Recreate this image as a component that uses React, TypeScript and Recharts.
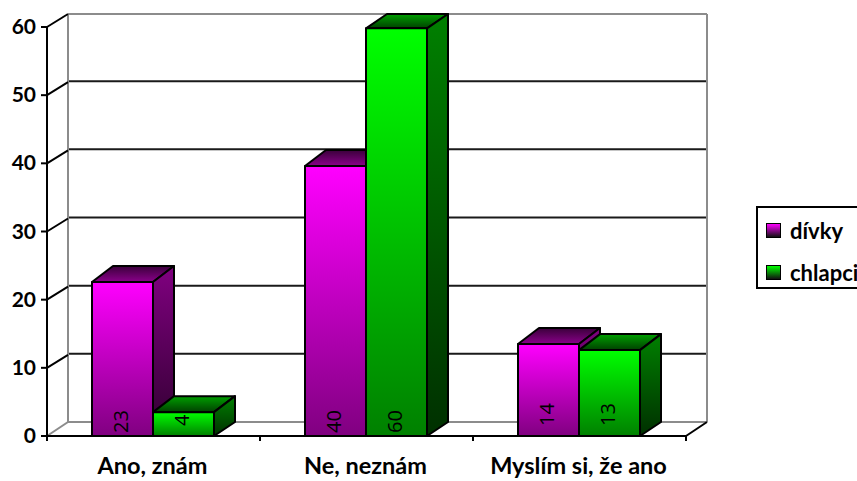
import React from "react";
import { BarChart, Bar, XAxis, YAxis, CartesianGrid, Legend, LabelList, usePlotArea } from "recharts";

const categories = ["Ano, znám", "Ne, neznám", "Myslím si, že ano"];
const divkyHeights = [22.6, 39.6, 13.5];
const chlapciHeights = [3.5, 59.8, 12.6];
const divkyLabels = ["23", "40", "14"];
const chlapciLabels = ["4", "60", "13"];
const yTicks = [0, 10, 20, 30, 40, 50, 60];

const data = categories.map((name, i) => ({
  name,
  divky: divkyHeights[i],
  chlapci: chlapciHeights[i],
  divkyLabel: divkyLabels[i],
  chlapciLabel: chlapciLabels[i],
}));

const FONT = "Lato, 'Open Sans', sans-serif";
const DX = 21;
const DY = 14;
const TOP_DY = 16;
const CEILING = 14;
const SHIFT = 1;

const Grad = ({ id, from, to }: any) => (
  <linearGradient id={id} x1="0" y1="0" x2="0" y2="1">
    <stop offset="0%" stopColor={from} />
    <stop offset="100%" stopColor={to} />
  </linearGradient>
);

const Bar3D = (props: any) => {
  const { y, width, height, tone } = props;
  const x = props.x - SHIFT;
  const b = y + height;
  const r = x + width;
  const by = Math.max(y - TOP_DY, CEILING);
  const common = { stroke: "#000", strokeWidth: 2, strokeLinejoin: "round" as const };
  return (
    <g>
      <polygon points={`${x},${y} ${x + DX},${by} ${r + DX},${by} ${r},${y}`} fill={`url(#${tone}Top)`} {...common} />
      <polygon points={`${r},${y} ${r + DX},${by} ${r + DX},${b - DY} ${r},${b}`} fill={`url(#${tone}Side)`} {...common} />
      <rect x={x} y={y} width={width} height={height} fill={`url(#${tone}Front)`} {...common} />
    </g>
  );
};

const Walls = () => {
  const area: any = usePlotArea();
  if (!area) return null;
  const { x, y, width, height } = area;
  const r = x + width;
  const b = y + height;
  const gray = { stroke: "#8c8c8c", strokeWidth: 2 };
  return (
    <g>
      <line x1={x + DX} y1={y - 13} x2={x + DX} y2={b - DY} {...gray} />
      <line x1={x + DX} y1={y - 13} x2={r + DX} y2={y - 13} {...gray} />
      <line x1={r + DX} y1={y - 13} x2={r + DX} y2={b - DY} {...gray} />
      <line x1={x + DX} y1={b - DY} x2={r + DX} y2={b - DY} {...gray} />
      <line x1={x} y1={b} x2={x + DX} y2={b - DY} {...gray} />
      <line x1={r} y1={b} x2={r + DX} y2={b - DY} stroke="#000" strokeWidth={2} />
      {[0, 1, 2, 3].map((i) => {
        const tx = x + (i * width) / categories.length;
        return <line key={i} x1={tx} x2={tx} y1={b} y2={b + 5} stroke="#000" strokeWidth={2} />;
      })}
    </g>
  );
};

const gridLine = (p: any) => {
  if (p.y1 >= 430 || p.y1 <= 30) return <g key={p.key} />;
  return <line key={p.key} x1={p.x1 + DX} x2={p.x2 + DX} y1={p.y1 - DY} y2={p.y2 - DY} stroke="#1a1a1a" strokeWidth={2} />;
};

const YTick = ({ x, y, payload }: any) => (
  <g>
    {payload.value > 0 && <line x1={x + 8} y1={y} x2={x + 8 + DX} y2={y - DY + 1} stroke="#000" strokeWidth={2} />}
    <text x={x - 3} y={y + 7} textAnchor="end" fontFamily={FONT} fontWeight={700} fontSize={21} fill="#000">
      {payload.value}
    </text>
  </g>
);

const XTick = ({ x, y, payload }: any) => (
  <text x={x - 1} y={y + 30} textAnchor="middle" fontFamily={FONT} fontWeight={700} fontSize={23.5} fill="#000">
    {payload.value}
  </text>
);

const RotatedLabel = (props: any) => {
  const { x, y, width, height, value } = props;
  const bx = x - SHIFT + width / 2 + 5;
  const by = y + height - (height < 120 ? 10 : 3);
  return (
    <text transform={`translate(${bx},${by}) rotate(-90)`} fontFamily="'Open Sans', sans-serif" fontSize={20} fill="#000">
      {value}
    </text>
  );
};

const LegendBox = ({ payload }: any) => (
  <div style={{ width: 120, height: 79, border: "2px solid #000", fontFamily: FONT, fontWeight: 700, fontSize: 22, color: "#000", position: "relative", background: "#fff" }}>
    {(payload || []).map((e: any, i: number) => (
      <div key={e.value} style={{ position: "absolute", left: 8, top: 14 + i * 42, display: "flex", alignItems: "center", height: 16, whiteSpace: "nowrap" }}>
        <span style={{ display: "inline-block", width: 13, height: 13, border: "1px solid #000", marginRight: 9, background: `linear-gradient(${e.color}, #111)` }} />
        {e.value}
      </div>
    ))}
  </div>
);

export default function App() {
  return (
    <div style={{ position: "absolute", left: 0, top: 0, width: 857, height: 481, overflow: "hidden", background: "#fff" }}>
      <BarChart width={857} height={481} data={data} margin={{ top: 27, right: 47, bottom: 0, left: 0 }} barSize={61} barGap={0}>
        <defs>
          <Grad id="mFront" from="#ff00ff" to="#800080" />
          <Grad id="mSide" from="#800080" to="#300030" />
          <Grad id="mTop" from="#3a003a" to="#8a008a" />
          <Grad id="gFront" from="#00ff00" to="#008000" />
          <Grad id="gSide" from="#008000" to="#003000" />
          <Grad id="gTop" from="#00a000" to="#004000" />
        </defs>
        <Walls />
        <CartesianGrid vertical={false} horizontal={gridLine} />
        <XAxis dataKey="name" tick={<XTick />} tickLine={false} axisLine={{ stroke: "#000", strokeWidth: 2 }} interval={0} height={45} />
        <YAxis domain={[0, 60]} ticks={yTicks} width={47} tick={<YTick />} tickLine={{ stroke: "#000", strokeWidth: 2 }} axisLine={{ stroke: "#000", strokeWidth: 2 }} />
        <Bar dataKey="divky" name="dívky" fill="#ff00ff" isAnimationActive={false} shape={(p: any) => <Bar3D {...p} tone="m" />}>
          <LabelList dataKey="divkyLabel" content={<RotatedLabel />} />
        </Bar>
        <Bar dataKey="chlapci" name="chlapci" fill="#00ff00" isAnimationActive={false} shape={(p: any) => <Bar3D {...p} tone="g" />}>
          <LabelList dataKey="chlapciLabel" content={<RotatedLabel />} />
        </Bar>
        <Legend content={<LegendBox />} layout="vertical" align="right" verticalAlign="middle" itemSorter={null as any} wrapperStyle={{ position: "absolute", left: 756, top: 206, width: 124, height: 83 }} />
      </BarChart>
    </div>
  );
}
